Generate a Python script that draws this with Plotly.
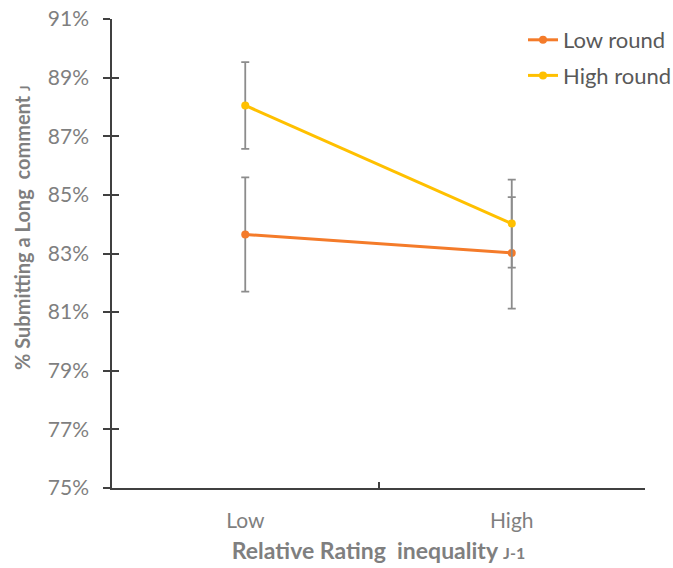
import plotly.graph_objects as go

categories = ["Low", "High"]
low_round = [83.65, 83.02]
low_round_err = [1.95, 1.9]
high_round = [88.05, 84.02]
high_round_err = [1.48, 1.5]
y_ticks = [75, 77, 79, 81, 83, 85, 87, 89, 91]
y_tick_labels = [f"{v}%" for v in y_ticks]

ORANGE = "#F47B2A"
YELLOW = "#FFC000"
GRAY_TXT = "#7F7F7F"
AXIS = "#404040"
ERR = "#8C8C8C"

fig = go.Figure()
fig.add_trace(go.Scatter(
    x=categories, y=low_round, name="Low round", mode="lines+markers", legendgroup="a",
    line=dict(color=ORANGE, width=3), marker=dict(size=8, color=ORANGE),
    error_y=dict(type="data", array=low_round_err, color=ERR, thickness=1.8, width=4),
))
fig.add_trace(go.Scatter(
    x=categories, y=high_round, name="High round", mode="lines+markers", legendgroup="b",
    line=dict(color=YELLOW, width=3), marker=dict(size=8, color=YELLOW),
    error_y=dict(type="data", array=high_round_err, color=ERR, thickness=1.8, width=4),
))
# invisible trace to carry the overlay axis with inside ticks
fig.add_trace(go.Scatter(x=categories, y=[None, None], yaxis="y2", showlegend=False, hoverinfo="skip"))

W, H = 673, 568
L, R, T, B = 112, 28, 19, 80
PW, PH = W - L - R, H - T - B

fig.update_layout(
    width=W, height=H,
    margin=dict(l=L, r=R, t=T, b=B, autoexpand=False),
    paper_bgcolor="white", plot_bgcolor="white",
    font=dict(family="Lato, 'Open Sans', sans-serif", color=GRAY_TXT),
    showlegend=True,
    legend=dict(x=(523 - L) / PW, y=1.0, xanchor="left", yanchor="top", xref="paper", yref="paper",
                font=dict(size=22, color="#595959"), bgcolor="rgba(0,0,0,0)",
                itemwidth=30, tracegroupgap=4),
    xaxis=dict(
        type="category", range=[-0.5, 1.5], showgrid=False, zeroline=False,
        showline=True, linecolor=AXIS, linewidth=1.5,
        ticks="inside", tickson="boundaries", ticklen=6, tickcolor=AXIS, tickwidth=1.5,
        tickfont=dict(size=21, color=GRAY_TXT), ticklabelstandoff=13,
        title=dict(text="<b>Relative Rating  inequality <span style='font-size:16px'>J-1</span></b>",
                   font=dict(size=23, color=GRAY_TXT), standoff=12),
    ),
    yaxis=dict(
        range=[75, 91], showgrid=False, zeroline=False,
        showline=True, linecolor=AXIS, linewidth=1.5,
        tickvals=y_ticks, ticktext=y_tick_labels,
        ticks="outside", ticklen=7, tickcolor=AXIS, tickwidth=1.5,
        tickfont=dict(size=21, color=GRAY_TXT), ticklabelstandoff=10,
    ),
    yaxis2=dict(
        range=[75, 91], overlaying="y", side="left", showgrid=False, zeroline=False,
        showline=False, tickvals=y_ticks, showticklabels=False,
        ticks="inside", ticklen=7, tickcolor=AXIS, tickwidth=1.5,
    ),
    annotations=[dict(
        text="<b>% Submitting a Long  comment <span style='font-size:13px'>J</span></b>",
        font=dict(size=20, color=GRAY_TXT), textangle=-90, showarrow=False,
        xref="paper", yref="paper", x=(22 - L) / PW, y=(H - B - 228) / PH,
        xanchor="center", yanchor="middle",
    )],
)

fig.write_html("out.html")
